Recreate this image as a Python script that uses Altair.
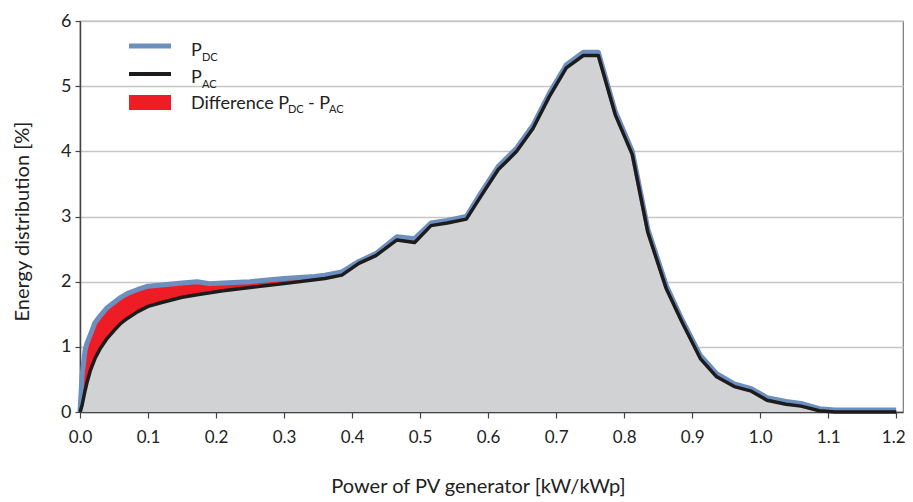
import altair as alt
import pandas as pd

# Data
power = [0, 0.003, 0.0075, 0.01, 0.015, 0.022, 0.03, 0.04, 0.05, 0.06, 0.07, 0.085, 0.1,
         0.12, 0.15, 0.172, 0.191, 0.21, 0.25, 0.3, 0.345, 0.36, 0.385, 0.41, 0.435,
         0.466, 0.492, 0.516, 0.54, 0.568, 0.59, 0.615, 0.642, 0.666, 0.69, 0.715, 0.74,
         0.762, 0.787, 0.812, 0.835, 0.862, 0.885, 0.912, 0.936, 0.962, 0.987, 1.01,
         1.038, 1.06, 1.087, 1.11, 1.135, 1.16, 1.2]
p_ac = [0, 0.1, 0.33, 0.44, 0.63, 0.82, 0.98, 1.13, 1.25, 1.36, 1.44, 1.54, 1.62,
        1.68, 1.76, 1.8, 1.83, 1.86, 1.91, 1.97, 2.03, 2.05, 2.1, 2.28, 2.4,
        2.64, 2.6, 2.86, 2.9, 2.96, 3.32, 3.72, 4.0, 4.35, 4.84, 5.28, 5.47,
        5.47, 4.56, 3.95, 2.75, 1.89, 1.38, 0.82, 0.54, 0.39, 0.32, 0.18,
        0.12, 0.09, 0.02, 0.0, 0.0, 0.0, 0.0]
p_dc = [0, 0.55, 0.95, 1.05, 1.18, 1.37, 1.48, 1.6, 1.68, 1.76, 1.82, 1.88, 1.93,
        1.95, 1.98, 2.0, 1.97, 1.98, 2.0, 2.05, 2.08, 2.1, 2.15, 2.31, 2.43,
        2.69, 2.66, 2.9, 2.94, 3.0, 3.37, 3.77, 4.05, 4.4, 4.89, 5.33, 5.52,
        5.52, 4.61, 4.0, 2.8, 1.94, 1.42, 0.87, 0.59, 0.43, 0.36, 0.22,
        0.16, 0.13, 0.05, 0.03, 0.03, 0.03, 0.03]
x_ticks = [round(i * 0.1, 1) for i in range(13)]
y_ticks = [0, 1, 2, 3, 4, 5, 6]

df = pd.DataFrame({"x": power, "ac": p_ac, "dc": p_dc})

FONT = "Lato"
BLUE = "#6b8fbf"
BLACK = "#1e1b1c"
RED = "#ee1c25"
GREY = "#d1d2d4"

xs = alt.X("x:Q", scale=alt.Scale(domain=[0, 1.21], nice=False, zero=False),
           axis=alt.Axis(values=x_ticks, format=".1f", grid=False, labelFlush=False,
                         title="Power of PV generator [kW/kWp]", titlePadding=31,
                         titleX=398, titleAnchor="start", titleAlign="center",
                         labelPadding=11, tickSize=6, labelFontSize=17, titleFontSize=20,
                         labelOffset={"condition": {"test": "datum.value > 1.15", "value": -3},
                                      "value": 0}))
ys = alt.Y("ac:Q", scale=alt.Scale(domain=[0, 6], nice=False),
           axis=alt.Axis(values=y_ticks, format="d", grid=True, title="Energy distribution [%]",
                         titlePadding=28, labelPadding=4, tickSize=5, titleY=200,
                         titleAlign="center",
                         labelFontSize=18, titleFontSize=20))

base = alt.Chart(df)
grey = base.mark_area(color=GREY, opacity=1).encode(x=xs, y=ys)
red = base.mark_area(color=RED, opacity=1).encode(x="x:Q", y="ac:Q", y2="dc:Q")
blue_line = base.mark_line(color=BLUE, strokeWidth=5, strokeJoin="round").encode(x="x:Q", y="dc:Q")
black_line = base.mark_line(color=BLACK, strokeWidth=3.5, strokeJoin="round").encode(x="x:Q", y="ac:Q")

one = alt.Data(values=[{"k": 0}])


def txt(s, x, y, size):
    return alt.Chart(one).mark_text(align="left", baseline="alphabetic", font=FONT,
                                    fontSize=size, color="#222").encode(
        x=alt.value(x), y=alt.value(y), text=alt.value(s))


leg_blue = alt.Chart(one).mark_rule(color=BLUE, strokeWidth=5).encode(
    x=alt.value(49), x2=alt.value(91), y=alt.value(25))
leg_black = alt.Chart(one).mark_rule(color=BLACK, strokeWidth=4).encode(
    x=alt.value(49), x2=alt.value(91), y=alt.value(53))
leg_red = alt.Chart(one).mark_rect(color=RED).encode(
    x=alt.value(49), x2=alt.value(91), y=alt.value(74), y2=alt.value(89))

legend = [
    leg_blue, leg_black, leg_red,
    txt("P", 111, 35, 18), txt("DC", 122, 40, 11),
    txt("P", 111, 62, 18), txt("AC", 122, 67, 11),
    txt("Difference P", 111, 88, 18), txt("DC", 208, 92, 11),
    txt("- P", 228, 88, 18), txt("AC", 249, 92, 11),
]

chart = alt.layer(grey, red, blue_line, black_line, *legend).properties(
    width=823, height=391,
    autosize=alt.AutoSizeParams(type="none"),
    padding={"left": 72, "top": 13, "right": 2, "bottom": 85},
).configure_view(stroke="#777", strokeWidth=1.2).configure_axis(
    domainColor="#444", domainWidth=1.5, tickColor="#444", tickWidth=1.2,
    gridColor="#c6c6c6", gridWidth=1.5, labelColor="#222", titleColor="#222",
    labelFont=FONT, titleFont=FONT, titleFontWeight="normal",
)

chart.save("out.html", embed_options={"renderer": "svg", "actions": False})
